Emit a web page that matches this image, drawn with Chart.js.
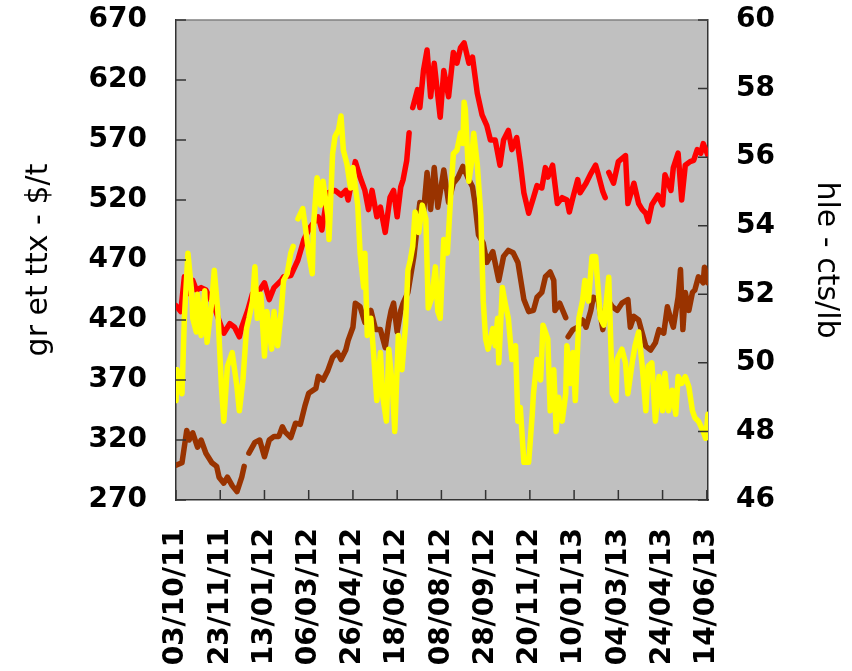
<!DOCTYPE html>
<html>
<head>
<meta charset="utf-8">
<style>
  html, body { margin: 0; padding: 0; background: #fff; }
  canvas { display: block; }
</style>
</head>
<body>
<canvas id="priceChart" width="852" height="671"></canvas>
<script src="https://cdn.jsdelivr.net/npm/chart.js@4.4.0/dist/chart.umd.min.js"></script>
<script>
// tick labels, one every 37 trading days
const xLabels = ['03/10/11', '23/11/11', '13/01/12', '06/03/12', '26/04/12', '18/06/12', '08/08/12',
    '28/09/12', '20/11/12', '10/01/13', '04/03/13', '24/04/13', '14/06/13'];
const labelStep = 37;

// graines (red), $/t - x = trading day since 03/10/11
const redDay = [0,4,7,10,14,17,21,25,28,32,38,40,45,49,53,55,60,64,70,74,78,82,88,90,96,102,107,112,119,122,
    127,133,138,142,144,150,154,158,161,164,168,171,175,179,182,185,188,190,193,195,196,198,202,204,207,210,
    213,216,221,224,228,232,235,238,241,245,248,252,256,260,263,267,271,274,278,281,285,288,291,295,299,302,
    306,309,311,315,319,323,327,329,332,336,338,343,347,351,353,357,359,360,362,366,370,376,378,383,387,390,
    393,395,398,403,407,409,414,416,420,423,426,430,433,436,439,441,445];
const redPrice = [432,427,456,442,453,445,447,445,439,431,414,409,417,414,406,414,428,442,445,451,437,447,453,456,457,470,
    487,497,506,495,526,528,524,528,520,552,539,528,512,528,506,514,493,522,528,506,531,537,553,576,null,597,
    612,597,628,645,606,634,589,628,606,643,634,647,651,634,639,609,591,582,570,570,549,570,578,562,572,551,
    526,509,522,532,530,547,539,549,517,522,520,510,522,537,526,534,542,549,542,527,522,null,543,534,552,557,
    517,534,517,512,509,502,516,524,516,541,528,547,559,520,549,552,553,562,559,567,557];

// tourteaux (brown), $/t
const brownDay = [0,5,9,11,14,18,21,25,30,34,36,40,43,47,51,55,57,59,61,66,70,74,78,82,86,89,91,96,100,104,
    108,111,117,119,123,127,131,135,138,142,144,148,150,154,158,163,167,171,175,178,180,182,185,188,190,194,
    199,204,207,210,213,216,219,224,228,232,236,240,244,248,250,253,257,260,265,270,274,278,282,286,291,295,
    299,302,306,309,313,316,317,321,326,327,328,332,336,340,343,347,349,353,357,361,365,369,373,378,380,383,
    387,390,393,397,401,404,408,411,414,416,420,422,424,426,429,432,434,437,441,442,445];
const brownPrice = [299,301,328,320,326,314,320,309,301,298,289,284,289,282,277,289,298,null,309,318,320,306,320,323,323,
    331,327,322,334,333,349,359,363,373,370,378,389,393,387,395,403,414,434,431,418,428,412,412,397,418,428,
    434,410,428,434,443,473,518,509,543,512,547,514,545,518,534,539,548,539,531,518,491,484,468,477,453,473,
    478,476,468,437,427,428,439,443,456,460,453,428,434,422,null,406,412,414,420,414,428,439,437,412,437,431,
    428,434,437,414,423,420,409,398,395,401,412,409,431,420,414,439,462,412,443,428,443,445,456,451,464,451];

// huile (yellow), cts/lb
const yellowDay = [0,1,5,7,10,13,14,17,18,21,24,26,30,32,35,38,40,43,47,51,53,56,59,61,64,66,68,71,74,76,
    80,82,85,88,90,93,96,98,99,102,106,108,111,114,115,118,121,123,127,128,131,133,136,138,140,143,146,148,
    152,154,157,158,160,163,165,168,171,173,176,178,181,183,186,189,192,194,196,198,200,203,206,209,211,214,
    217,219,221,224,227,230,232,235,238,240,241,242,245,247,249,252,255,257,259,261,265,267,269,270,273,275,
    278,281,284,286,288,291,295,298,299,302,305,307,311,313,316,318,320,323,326,327,330,332,334,337,340,342,
    345,348,351,355,358,362,365,368,369,373,376,378,382,384,387,390,393,395,398,401,404,407,409,412,415,418,
    420,423,426,429,432,434,437,441,443,445];
const yellowPrice = [48.9,49.8,49.1,51.3,53.2,52.1,51.3,50.9,52.0,50.8,52.1,50.6,51.8,52.7,51.5,49.3,48.3,49.9,50.3,49.3,
    48.6,49.5,51.0,51.3,51.8,52.8,51.3,52.0,50.2,51.5,50.4,51.5,50.5,51.5,52.4,52.6,53.2,53.4,null,54.2,
    54.5,54.0,53.2,52.6,54.0,55.4,54.6,55.3,54.3,53.6,56.1,56.6,56.8,57.2,56.2,55.8,55.1,55.7,54.6,53.2,
    52.2,53.2,50.8,51.3,50.4,48.9,50.3,49.0,48.3,50.4,49.3,48.0,50.8,49.8,51.1,52.7,53.0,53.4,54.4,53.8,
    54.6,54.2,51.6,51.9,52.8,51.5,51.3,53.6,53.2,55.0,56.1,56.2,56.7,56.4,57.6,57.4,55.3,55.8,56.7,55.8,
    54.3,51.8,50.7,50.4,51.0,50.5,51.3,50.0,52.2,51.8,51.3,50.1,50.5,48.3,48.7,47.1,47.1,48.5,49.1,50.1,
    49.5,51.1,50.7,48.6,49.8,48.0,49.0,48.3,49.1,50.5,49.4,50.3,48.9,51.3,51.8,52.4,51.8,53.1,53.1,51.3,
    51.1,52.5,49.1,48.9,50.1,50.4,50.0,49.1,50.1,50.5,50.9,49.9,48.6,49.9,50.0,48.3,49.6,48.6,49.7,48.6,
    49.2,48.5,49.6,49.4,49.6,49.3,48.6,48.4,48.3,48.0,47.8,48.5];

function points(days, values) {
    return days.map((d, i) => ({ x: d, y: values[i] }));
}

// grey plot background, top frame line and inward tick marks
const frame = {
    id: 'frame',
    beforeDraw(chart) {
        const { ctx, chartArea: a } = chart;
        ctx.save();
        ctx.fillStyle = '#c0c0c0';
        ctx.fillRect(a.left, a.top, a.right - a.left, a.bottom - a.top);
        ctx.restore();
    },
    afterDraw(chart) {
        const { ctx, chartArea: a, scales } = chart;
        ctx.save();
        ctx.lineWidth = 1.5;
        ctx.strokeStyle = '#808080';
        ctx.beginPath();
        ctx.moveTo(a.left, a.top);
        ctx.lineTo(a.right, a.top);
        ctx.stroke();
        ctx.strokeStyle = '#333';
        ctx.beginPath();
        scales.y.ticks.forEach(t => {
            const y = scales.y.getPixelForValue(t.value);
            ctx.moveTo(a.left, y);
            ctx.lineTo(a.left + 10, y);
        });
        scales.y2.ticks.forEach(t => {
            const y = scales.y2.getPixelForValue(t.value);
            ctx.moveTo(a.right, y);
            ctx.lineTo(a.right - 10, y);
        });
        scales.x.ticks.forEach(t => {
            const x = scales.x.getPixelForValue(t.value);
            ctx.moveTo(x, a.bottom);
            ctx.lineTo(x, a.bottom - 10);
        });
        ctx.stroke();
        ctx.restore();
    }
};

const tickFont = { family: 'DejaVu Sans', size: 28, weight: 'bold' };
const titleFont = { family: 'DejaVu Sans', size: 30 };
const axisBorder = { display: true, color: '#333', width: 1.5 };

// fixed box sizes so the plot area sits where it does in the original
function fixWidth(w) {
    return s => { s.width = w; s.paddingTop = 0; s.paddingBottom = 0; };
}

const ctx = document.getElementById('priceChart').getContext('2d');
new Chart(ctx, {
    type: 'line',
    data: {
        datasets: [{
            label: 'huile',
            data: points(yellowDay, yellowPrice),
            yAxisID: 'y2',
            borderColor: '#ffff00',
            order: 0
        }, {
            label: 'graines',
            data: points(redDay, redPrice),
            yAxisID: 'y',
            borderColor: '#ff0000',
            order: 1
        }, {
            label: 'tourteaux',
            data: points(brownDay, brownPrice),
            yAxisID: 'y',
            borderColor: '#993300',
            order: 2
        }]
    },
    options: {
        responsive: false,
        animation: false,
        devicePixelRatio: 1,
        layout: { padding: { top: 20, left: 0, right: 0, bottom: 0 } },
        plugins: { legend: { display: false }, tooltip: { enabled: false } },
        elements: {
            point: { radius: 0 },
            line: { borderWidth: 5.5, tension: 0, borderJoinStyle: 'round', borderCapStyle: 'round', fill: false }
        },
        spanGaps: false,
        scales: {
            x: {
                type: 'linear',
                min: 0,
                max: 445,
                grid: { display: false, drawTicks: false, tickLength: 0 },
                border: axisBorder,
                afterBuildTicks: s => { s.ticks = xLabels.map((_, i) => ({ value: i * labelStep })); },
                afterFit: s => { s.height = 171; s.paddingLeft = 0; s.paddingRight = 0; },
                ticks: {
                    autoSkip: false,
                    minRotation: 90,
                    maxRotation: 90,
                    padding: 28,
                    color: '#000',
                    font: tickFont,
                    callback: (v, i) => xLabels[i]
                }
            },
            y: {
                position: 'left',
                min: 270,
                max: 670,
                grid: { display: false, drawTicks: false, tickLength: 0 },
                border: axisBorder,
                afterFit: fixWidth(176),
                ticks: { stepSize: 50, padding: 29, color: '#000', font: tickFont },
                title: { display: true, text: 'gr et ttx - $/t', color: '#000', font: titleFont, padding: { top: 21, bottom: 0 } }
            },
            y2: {
                position: 'right',
                min: 46,
                max: 60,
                grid: { display: false, drawTicks: false, tickLength: 0 },
                border: axisBorder,
                afterFit: fixWidth(144),
                ticks: { stepSize: 2, padding: 28, color: '#000', font: tickFont },
                title: { display: true, text: 'hle - cts/lb', color: '#000', font: titleFont, padding: { top: 8, bottom: 0 } }
            }
        }
    },
    plugins: [frame]
});
</script>
</body>
</html>
